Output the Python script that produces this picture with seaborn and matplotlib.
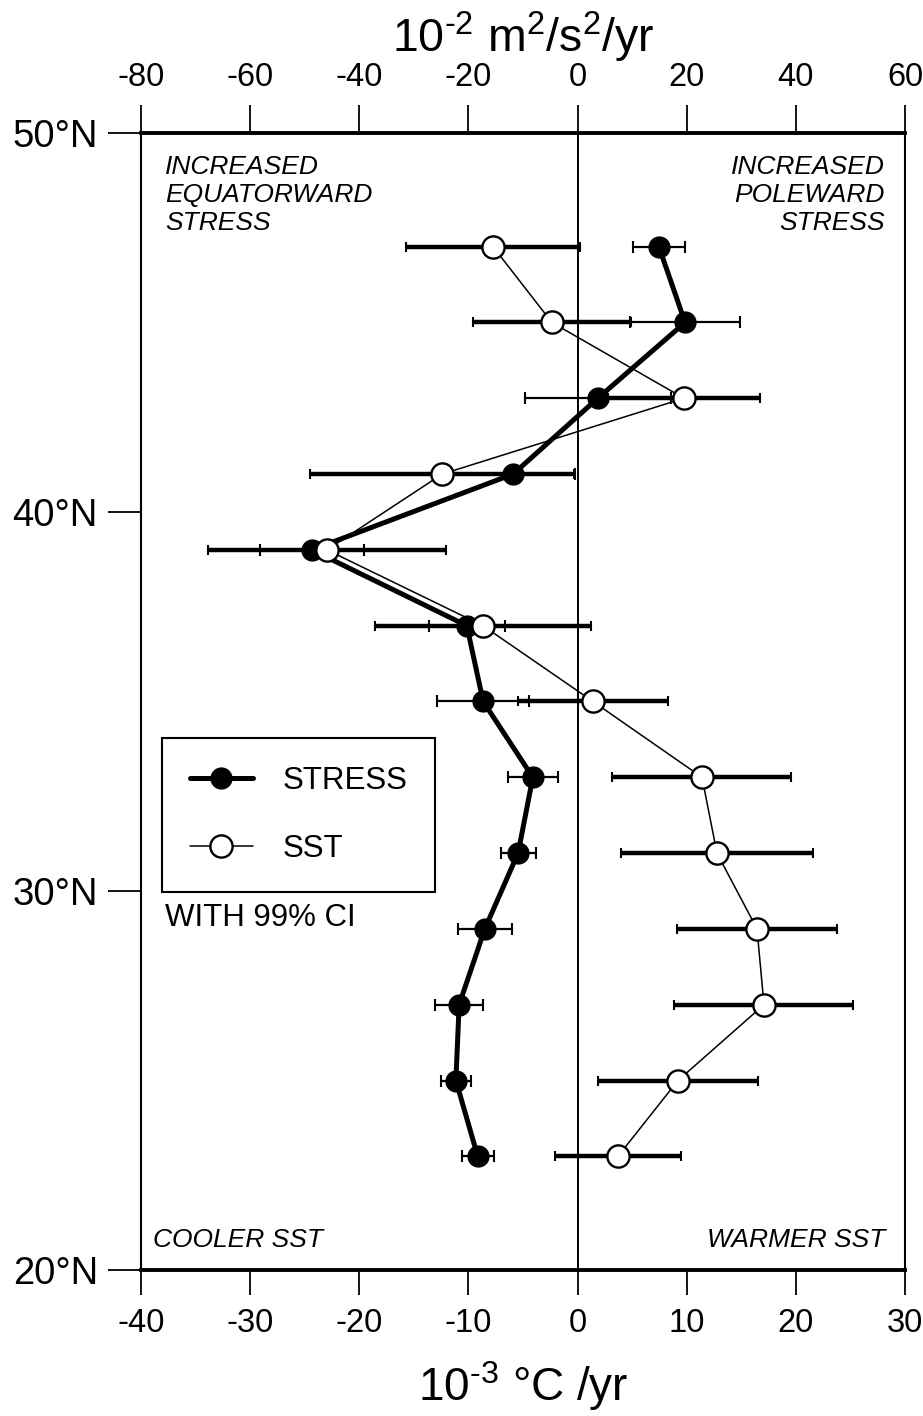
import numpy as np
import pandas as pd
import matplotlib
matplotlib.use("Agg")
import matplotlib.pyplot as plt
import seaborn as sns
from matplotlib.lines import Line2D

# ---------------- data ----------------
lat = [47, 45, 43, 41, 39, 37, 35, 33, 31, 29, 27, 25, 23]
stress = [14.9, 19.7, 3.7, -11.8, -48.7, -20.3, -17.3, -8.2, -10.9, -17.0, -21.7, -22.3, -18.3]
stress_ci = [4.8, 10.1, 13.4, 11.4, 9.5, 7.0, 8.4, 4.6, 3.2, 4.9, 4.4, 2.7, 2.9]
sst = [-7.75, -2.35, 9.75, -12.4, -22.96, -8.67, 1.41, 11.4, 12.77, 16.44, 17.08, 9.2, 3.7]
sst_ci = [8.0, 7.2, 7.0, 12.1, 10.9, 9.9, 6.9, 8.2, 8.8, 7.3, 8.2, 7.3, 5.8]

lat_ticks = [20, 30, 40, 50]
lat_labels = ["20°N", "30°N", "40°N", "50°N"]
sst_ticks = [-40, -30, -20, -10, 0, 10, 20, 30]
stress_ticks = [-80, -60, -40, -20, 0, 20, 40, 60]

# ---------------- style ----------------
sns.set_style("ticks")
plt.rcParams['font.family'] = ['Liberation Sans', 'DejaVu Sans']
plt.rcParams['axes.unicode_minus'] = False
plt.rcParams['mathtext.fontset'] = 'custom'
plt.rcParams['mathtext.rm'] = 'Liberation Sans'
plt.rcParams['mathtext.it'] = 'Liberation Sans:italic'
plt.rcParams['mathtext.bf'] = 'Liberation Sans:bold'
for k in ('text.color', 'axes.labelcolor', 'xtick.color', 'ytick.color', 'axes.edgecolor'):
    plt.rcParams[k] = 'black'

fig = plt.figure(figsize=(9.23, 14.16), dpi=100)
fig.patch.set_facecolor('white')
ax = fig.add_axes([0.15276, 0.1031, 0.82774, 0.8030])
ax_top = ax.twiny()
ax.set_zorder(2)
ax.patch.set_visible(False)
ax_top.set_zorder(1)

df_sst = pd.DataFrame({'lat': lat, 'value': sst})
df_stress = pd.DataFrame({'lat': lat, 'value': stress})

# zero line
ax.axvline(0, color='black', lw=1.4, zorder=1)

# STRESS on top axis
ax_top.errorbar(stress, lat, xerr=stress_ci, fmt='none', ecolor='black',
                elinewidth=1.6, capsize=4.5, capthick=1.5, zorder=2)
sns.lineplot(data=df_stress, x='value', y='lat', sort=False, orient='y',
             estimator=None, ax=ax_top, color='black', lw=3.6, marker='o',
             markersize=15, markerfacecolor='black', markeredgecolor='black',
             markeredgewidth=1.0, zorder=3, legend=False)

# SST on bottom axis
ax.errorbar(sst, lat, xerr=sst_ci, fmt='none', ecolor='black',
            elinewidth=3.2, capsize=3.5, capthick=1.5, zorder=2)
sns.lineplot(data=df_sst, x='value', y='lat', sort=False, orient='y',
             estimator=None, ax=ax, color='black', lw=1.1, marker='o',
             markersize=16, markerfacecolor='white', markeredgecolor='black',
             markeredgewidth=1.7, zorder=4, legend=False)

# axes limits / ticks
ax.set_xlim(-40, 30)
ax_top.set_xlim(-80, 60)
ax.set_ylim(20, 50)
ax_top.set_ylim(20, 50)
ax.set_xticks(sst_ticks)
ax.set_xticklabels([str(t) for t in sst_ticks])
ax_top.set_xticks(stress_ticks)
ax_top.set_xticklabels([str(t) for t in stress_ticks])
ax.set_yticks(lat_ticks)
ax.set_yticklabels(lat_labels)
ax.set_ylabel('')

ax.tick_params(axis='x', which='both', direction='out', length=18, width=1.3,
               labelsize=23.5, pad=9, bottom=True, top=False, colors='black')
ax.tick_params(axis='y', which='both', direction='out', length=24, width=1.3,
               labelsize=27.5, pad=7, left=True, right=False, colors='black')
ax_top.tick_params(axis='x', which='both', direction='out', length=20, width=1.3,
                   labelsize=23.5, pad=9, top=True, bottom=False, colors='black')
ax_top.tick_params(axis='y', left=False, right=False, labelleft=False, labelright=False)
ax_top.set_ylabel('')

for side, sp in ax.spines.items():
    sp.set_visible(True)
    sp.set_color('black')
    sp.set_linewidth(2.8 if side in ('top', 'bottom') else 1.5)
for sp in ax_top.spines.values():
    sp.set_visible(False)

ax.set_xlabel(r"10$^{\text{-}3}$ °C /yr", fontsize=33, labelpad=15, color='black')
ax_top.set_xlabel(r"10$^{\text{-}2}$ m$^{2}$/s$^{2}$/yr", fontsize=33.5, labelpad=7,
                  color='black')

# annotations
ital = dict(fontsize=19, style='italic', transform=ax.transAxes, linespacing=1.22,
            color='black')
ax.text(0.0314, 0.981, "INCREASED\nEQUATORWARD\nSTRESS", ha='left', va='top', **ital)
ax.text(0.9738, 0.981, "INCREASED\nPOLEWARD\nSTRESS", ha='right', va='top',
        multialignment='right', **ital)
ax.text(0.0157, 0.0202, "COOLER SST", ha='left', va='baseline', **ital)
ax.text(0.9738, 0.0202, "WARMER SST", ha='right', va='baseline', **ital)

# legend
h_stress = Line2D([], [], color='black', lw=3.6, marker='o', markersize=15,
                  markerfacecolor='black', markeredgecolor='black')
h_sst = Line2D([], [], color='black', lw=1.1, marker='o', markersize=16,
               markerfacecolor='white', markeredgecolor='black', markeredgewidth=1.7)
leg = ax.legend([h_stress, h_sst], ["STRESS", "SST"], loc='upper left',
                bbox_to_anchor=(0.0275, 0.4679), borderaxespad=0, fontsize=22.5,
                frameon=True, fancybox=False, framealpha=1, edgecolor='black',
                handlelength=2.0, handletextpad=0.95, labelspacing=1.2,
                borderpad=0.9, numpoints=1)
leg.get_frame().set_linewidth(1.5)
for t in leg.get_texts():
    t.set_color('black')
ax.text(0.0314, 0.3096, "WITH 99% CI", ha='left', va='center', fontsize=22.5,
        transform=ax.transAxes, color='black')

fig.savefig('out.png', dpi=100)
